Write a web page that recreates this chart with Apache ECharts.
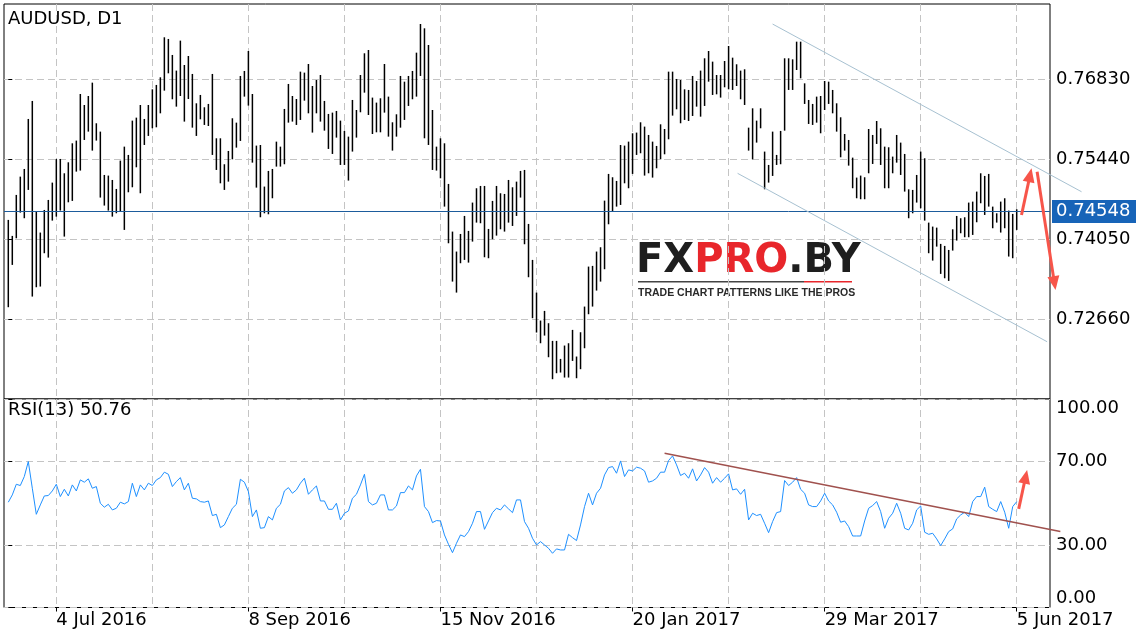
<!DOCTYPE html>
<html><head><meta charset="utf-8">
<script src="https://cdn.jsdelivr.net/npm/echarts@6/dist/echarts.min.js"></script>
<style>html,body{margin:0;padding:0;background:#fff}#c{width:1136px;height:640px}</style>
</head><body><div id="c"></div>
<script>
const highs = [
0.74387,0.74109,0.74821,0.75139,0.75272,0.76141,0.76454,0.74531,0.74167,0.74560,
0.74734,0.75035,0.75446,0.75446,0.75197,0.75388,0.75718,0.75765,0.76575,0.76384,
0.76540,0.76772,0.76066,0.75921,0.75168,0.75157,0.75081,0.74925,0.75417,0.75660,
0.75516,0.76112,0.76164,0.76384,0.76141,0.76384,0.76656,0.76732,0.76865,0.77560,
0.77531,0.77253,0.76981,0.77502,0.77079,0.77235,0.76923,0.76413,0.76558,0.76344,
0.76402,0.76923,0.75805,0.75805,0.75354,0.75585,0.76153,0.76077,0.76888,0.76975,
0.77322,0.76575,0.75678,0.75689,0.74966,0.75238,0.75272,0.75747,0.75660,0.76315,
0.76749,0.76540,0.76488,0.76963,0.76946,0.77096,0.76714,0.76818,0.76905,0.76454,
0.76228,0.76251,0.76280,0.76112,0.75933,0.75834,0.76471,0.76297,0.76905,0.77282,
0.77339,0.76512,0.76425,0.76500,0.77096,0.76529,0.76083,0.76222,0.76888,0.76789,
0.76888,0.76975,0.77293,0.77791,0.77716,0.77426,0.76297,0.75660,0.75805,0.75718,
0.75012,0.74184,0.73837,0.74143,0.74456,0.74196,0.74688,0.74937,0.74977,0.74977,
0.74230,0.74717,0.74977,0.74850,0.74838,0.75081,0.74954,0.75052,0.75238,0.75255,
0.74317,0.73692,0.73124,0.72638,0.72806,0.72592,0.72285,0.72285,0.71972,0.72204,
0.72244,0.72476,0.72013,0.72435,0.72881,0.73576,0.73588,0.73837,0.73912,0.74722,
0.75186,0.75128,0.75064,0.75689,0.75678,0.75747,0.75892,0.75904,0.76083,0.76008,
0.75863,0.75747,0.75672,0.76048,0.75967,0.76963,0.76963,0.76836,0.76818,0.76656,
0.76645,0.76888,0.76801,0.76981,0.77195,0.77322,0.77137,0.76905,0.76905,0.77148,
0.77409,0.77206,0.77091,0.76981,0.77004,0.75990,0.76326,0.76112,0.76326,0.75574,
0.75342,0.75921,0.75516,0.75933,0.77195,0.77195,0.77177,0.77484,0.77484,0.76760,
0.76471,0.76402,0.76529,0.76540,0.76801,0.76789,0.76645,0.76413,0.76170,0.75880,
0.75776,0.75469,0.75122,0.75157,0.75128,0.75967,0.75863,0.76106,0.75979,0.75660,
0.75649,0.75487,0.75863,0.75730,0.75533,0.74919,0.74908,0.75168,0.75574,0.75458,
0.74340,0.74271,0.74253,0.73970,0.73935,0.73865,0.74224,0.74456,0.74416,0.74433,
0.74688,0.74705,0.74879,0.75197,0.75151,0.75186,0.74618,0.74502,0.74705,0.74763,
0.74549,0.74491,0.74572
];
const lows = [
0.72870,0.73605,0.74068,0.74514,0.74416,0.74908,0.73055,0.73217,0.73229,0.73808,
0.73732,0.74375,0.74444,0.74549,0.74097,0.74693,0.74717,0.75226,0.75244,0.75776,
0.75921,0.75591,0.75765,0.74775,0.74636,0.74549,0.74444,0.74502,0.74531,0.74213,
0.74867,0.74954,0.75301,0.74850,0.75689,0.75846,0.75979,0.75996,0.76239,0.76633,
0.76934,0.76483,0.76355,0.76540,0.76095,0.76488,0.75990,0.75846,0.76135,0.76037,
0.76019,0.75516,0.75255,0.75023,0.74908,0.75052,0.75440,0.75643,0.75759,0.76529,
0.76373,0.75382,0.74948,0.74433,0.74502,0.74485,0.74763,0.75313,0.75313,0.75354,
0.76077,0.76095,0.76037,0.76124,0.76459,0.76239,0.75904,0.76239,0.76095,0.75938,
0.75620,0.75533,0.75817,0.75342,0.75342,0.75070,0.75574,0.75817,0.76257,0.76598,
0.76210,0.75880,0.75909,0.75909,0.76251,0.75834,0.75591,0.75834,0.75990,0.76124,
0.76367,0.76483,0.76529,0.76888,0.75805,0.75689,0.75255,0.75244,0.75110,0.74618,
0.73981,0.73315,0.73124,0.73634,0.73692,0.73645,0.74010,0.74340,0.74329,0.73738,
0.73721,0.74051,0.74114,0.74224,0.74184,0.74340,0.74282,0.74456,0.74775,0.73964,
0.73391,0.72679,0.72430,0.72244,0.72377,0.72001,0.71619,0.71723,0.71735,0.71648,
0.71648,0.71937,0.71636,0.71793,0.72157,0.72748,0.72881,0.73159,0.73315,0.73530,
0.74311,0.74531,0.74618,0.74647,0.75023,0.74937,0.75186,0.75516,0.75545,0.75157,
0.75197,0.75122,0.75284,0.75440,0.75527,0.75788,0.76199,0.76309,0.76066,0.76124,
0.76106,0.76193,0.76355,0.76181,0.76367,0.76789,0.76558,0.76569,0.76512,0.76691,
0.76656,0.76645,0.76714,0.76483,0.76384,0.75591,0.75440,0.75730,0.75979,0.74919,
0.75035,0.75151,0.75342,0.75354,0.75938,0.76645,0.76645,0.76992,0.76847,0.76402,
0.76054,0.76037,0.76077,0.75892,0.76297,0.76402,0.76239,0.75921,0.75475,0.75591,
0.75330,0.74937,0.74763,0.74746,0.74746,0.75197,0.75359,0.75707,0.75342,0.74937,
0.74937,0.75197,0.75382,0.75168,0.74879,0.74416,0.74502,0.74688,0.74589,0.74375,
0.73808,0.73680,0.73923,0.73449,0.73373,0.73327,0.73854,0.74028,0.74155,0.74086,
0.74086,0.74126,0.74346,0.74676,0.74473,0.74618,0.74242,0.74340,0.74167,0.74242,
0.73750,0.73721,0.74213
];
const rsi = [
50.5,54.0,59.1,58.5,62.8,70.0,57.2,44.7,49.2,53.5,
53.7,55.9,59.1,53.2,56.7,53.5,58.8,55.9,61.2,60.1,
61.7,57.2,58.0,50.0,48.1,49.5,46.8,47.6,50.5,49.7,
50.8,59.6,53.2,58.8,56.4,59.6,58.5,61.2,62.3,64.9,
63.9,58.0,60.4,62.3,56.4,59.6,52.4,52.1,50.8,50.5,
51.1,44.1,44.7,38.3,39.6,43.6,47.6,49.5,61.5,60.1,
55.6,43.6,46.8,38.0,38.3,43.6,42.0,47.6,49.5,55.9,
57.5,54.8,56.4,59.6,62.0,54.3,56.4,58.3,51.1,51.1,
47.1,47.1,50.0,42.0,45.2,46.3,52.4,54.3,58.8,63.9,
50.8,49.2,50.0,54.0,54.0,46.8,46.8,48.7,55.1,55.1,
58.3,56.4,63.1,66.3,48.4,46.0,40.7,41.7,41.5,34.8,
30.3,26.3,30.8,34.8,34.0,36.4,40.4,46.0,46.0,37.5,
41.5,45.5,47.6,46.8,49.2,47.3,45.5,51.6,51.6,41.2,
38.0,33.2,30.0,31.6,30.0,28.4,26.0,28.1,27.6,27.6,
35.1,33.5,32.1,39.6,48.4,54.8,49.2,54.8,57.2,63.6,
67.1,67.6,64.4,70.3,62.8,66.0,65.5,67.3,66.8,65.5,
60.1,60.7,62.0,64.9,64.9,70.5,72.7,68.4,63.3,64.4,
62.0,66.5,60.7,63.6,67.1,64.9,59.6,62.3,60.1,62.0,
64.1,56.4,56.9,54.3,56.7,42.0,45.2,44.1,44.7,40.4,
35.9,41.2,45.5,46.0,60.9,58.5,60.1,62.3,56.7,54.8,
49.2,48.4,48.4,51.1,54.8,51.1,49.2,45.7,40.9,41.5,
38.8,34.3,34.3,34.3,41.5,47.6,48.9,50.8,46.0,38.0,
42.8,45.2,50.0,45.2,38.0,37.2,40.4,46.8,48.7,36.1,
35.1,35.6,32.9,29.7,32.9,36.4,37.7,42.5,44.4,45.7,
43.6,50.8,53.2,53.2,57.7,48.4,47.1,46.0,50.8,45.7,
38.0,48.4,50.76
];
const priceTicks = [0.72660, 0.74050, 0.75440, 0.76830];
const rsiTicks = [0, 30, 70, 100];
const dateLabels = ['4 Jul 2016', '8 Sep 2016', '15 Nov 2016', '20 Jan 2017', '29 Mar 2017', '5 Jun 2017'];
const dateLabelBars = [12, 60, 108, 156, 204, 252];
const gridBars = [12, 36, 60, 84, 108, 132, 156, 180, 204, 228, 252];
const lastPrice = 0.74548;
const symbolName = 'AUDUSD, D1';
const rsiName = 'RSI(13)';
const channelLines = [[[191, 0.77790], [268.2, 0.74876]], [[182.25, 0.75196], [259.6, 0.72270]]];
const rsiTrend = [[[164, 74.0], [262.9, 36.4]]];
const priceArrows = [[[253.2, 0.74472], [255.7, 0.75283]], [[257.1, 0.75224], [261.7, 0.73168]]];
const rsiArrows = [[[252.5, 47.3], [254.6, 66.0]]];

const FONT = 'DejaVu Sans';
const X_MIN = -1.0746, X_MAX = 260.32;
const dash = { color: '#c4c4c4', width: 1, type: [7, 4] };

function segSeries(xi, yi, segs, color, width, arrow) {
  return {
    type: 'custom', xAxisIndex: xi, yAxisIndex: yi, clip: false, silent: true, z: 6,
    data: segs.map(s => [s[0][0], s[0][1], s[1][0], s[1][1]]),
    renderItem(params, api) {
      const a = api.coord([api.value(0), api.value(1)]);
      const b = api.coord([api.value(2), api.value(3)]);
      const children = [];
      let end = b;
      if (arrow) {
        const dx = b[0] - a[0], dy = b[1] - a[1], L = Math.hypot(dx, dy);
        const ux = dx / L, uy = dy / L, hl = 14, hw = 6;
        const base = [b[0] - ux * hl, b[1] - uy * hl];
        end = [b[0] - ux * hl * 0.7, b[1] - uy * hl * 0.7];
        children.push({ type: 'polygon', shape: { points: [b, [base[0] - uy * hw, base[1] + ux * hw], [base[0] + uy * hw, base[1] - ux * hw]] }, style: { fill: color } });
      }
      children.push({ type: 'line', shape: { x1: a[0], y1: a[1], x2: end[0], y2: end[1] }, style: { stroke: color, lineWidth: width } });
      return { type: 'group', children };
    }
  };
}

const chart = echarts.init(document.getElementById('c'), null, { renderer: 'canvas' });
chart.setOption({
  animation: false,
  backgroundColor: '#fff',
  grid: [
    { left: 4, top: 4, width: 1046, height: 395, show: true, borderColor: '#000', borderWidth: 1, backgroundColor: '#fff' },
    { left: 4, top: 399, width: 1046, height: 208.5, show: true, borderColor: '#000', borderWidth: 1, backgroundColor: '#fff' }
  ],
  xAxis: [
    { type: 'value', gridIndex: 0, min: X_MIN, max: X_MAX, axisLine: { show: false },
      axisTick: { show: false, customValues: gridBars }, axisLabel: { show: false }, splitLine: { show: true, lineStyle: dash } },
    { type: 'value', gridIndex: 1, min: X_MIN, max: X_MAX, axisLine: { show: false },
      axisTick: { show: false, customValues: gridBars }, axisLabel: { show: false }, splitLine: { show: true, lineStyle: dash } },
    { type: 'value', gridIndex: 1, min: X_MIN, max: X_MAX, position: 'bottom', axisLine: { show: false },
      axisTick: { show: true, length: 4, customValues: dateLabelBars, lineStyle: { color: '#000' } },
      axisLabel: { show: true, customValues: dateLabelBars, align: 'left', margin: 4, fontFamily: FONT, fontSize: 18, color: '#000',
        formatter: v => dateLabels[dateLabelBars.indexOf(Math.round(v))] || '' },
      splitLine: { show: false } }
  ],
  yAxis: [
    { type: 'value', gridIndex: 0, position: 'right', min: 0.712751, max: 0.781384, axisLine: { show: false },
      axisTick: { show: true, length: 4, customValues: priceTicks, lineStyle: { color: '#000' } },
      axisLabel: { customValues: priceTicks, margin: 6, fontFamily: FONT, fontSize: 18, color: '#000', formatter: v => v.toFixed(5) },
      splitLine: { show: true, lineStyle: dash } },
    { type: 'value', gridIndex: 1, position: 'right', min: 0, max: 100, axisLine: { show: false },
      axisTick: { show: true, length: 4, customValues: rsiTicks, lineStyle: { color: '#000' } },
      axisLabel: { customValues: rsiTicks, margin: 6, fontFamily: FONT, fontSize: 18, color: '#000', formatter: v => v.toFixed(2),
        verticalAlignMaxLabel: 'top', verticalAlignMinLabel: 'bottom' },
      splitLine: { show: true, lineStyle: dash } }
  ],
  graphic: [
    { type: 'text', left: 8, top: 10, z: 10, style: { text: symbolName, font: '18px "DejaVu Sans"', fill: '#000' } },
    { type: 'text', left: 8, top: 401, z: 10, style: { text: rsiName + ' ' + rsi[rsi.length - 1].toFixed(2), font: '18px "DejaVu Sans"', fill: '#000' } },
    { type: 'group', left: 636, top: 242, z: 1, children: [
      { type: 'rect', shape: { x: 0, y: 0, width: 222, height: 54 }, style: { fill: '#fff' } },
      { type: 'text', x: 0, y: -4, style: { text: '{a|FX}{b|PRO}{a|.BY}', font: 'bold 40px "DejaVu Sans"',
        rich: { a: { fill: '#1e1e1e', font: 'bold 40px "DejaVu Sans"' }, b: { fill: '#e8262b', font: 'bold 40px "DejaVu Sans"' } } } },
      { type: 'rect', shape: { x: 2, y: 35, width: 166, height: 1.5 }, style: { fill: '#444' } },
      { type: 'rect', shape: { x: 168, y: 35, width: 48, height: 1.5 }, style: { fill: '#e8262b' } },
      { type: 'text', x: 2, y: 42, style: { text: 'TRADE CHART PATTERNS LIKE THE PROS', font: 'bold 10.5px "Liberation Sans"', fill: '#2a2a2a' } }
    ] }
  ],
  series: [
    {
      type: 'custom', name: 'AUDUSD', xAxisIndex: 0, yAxisIndex: 0, z: 3,
      data: highs.map((h, i) => [i, h, lows[i]]),
      encode: { x: 0, y: [1, 2] },
      renderItem(params, api) {
        const t = api.coord([api.value(0), api.value(1)]);
        const b = api.coord([api.value(0), api.value(2)]);
        return { type: 'line', shape: { x1: t[0], y1: t[1], x2: b[0], y2: b[1] }, style: { stroke: '#000', lineWidth: 1.5 } };
      }
    },
    {
      type: 'custom', name: 'last', xAxisIndex: 0, yAxisIndex: 0, clip: false, silent: true, z: 4,
      data: [[X_MIN, lastPrice, X_MAX]],
      renderItem(params, api) {
        const a = api.coord([api.value(0), api.value(1)]);
        const b = api.coord([api.value(2), api.value(1)]);
        const y = Math.round(a[1]) + 0.5;
        return { type: 'group', children: [
          { type: 'line', shape: { x1: a[0], y1: y, x2: b[0], y2: y }, style: { stroke: '#1d5c9c', lineWidth: 1 } },
          { type: 'rect', shape: { x: b[0] + 2, y: y - 11.5, width: 90, height: 23 }, style: { fill: '#1764b8' } },
          { type: 'text', x: b[0] + 6, y: y, style: { text: api.value(1).toFixed(5), fill: '#fff', font: '18px "DejaVu Sans"', verticalAlign: 'middle', align: 'left' } }
        ] };
      }
    },
    {
      type: 'line', name: 'RSI', xAxisIndex: 1, yAxisIndex: 1, data: rsi.map((v, i) => [i, v]),
      showSymbol: false, symbol: 'none', lineStyle: { color: '#1e90ff', width: 1 }, z: 3
    },
    segSeries(0, 0, channelLines, '#a7c1d1', 1, false),
    segSeries(1, 1, rsiTrend, '#a0514e', 1.5, false),
    segSeries(0, 0, priceArrows, '#f7554a', 3, true),
    segSeries(1, 1, rsiArrows, '#f7554a', 3, true)
  ]
});
</script></body></html>
